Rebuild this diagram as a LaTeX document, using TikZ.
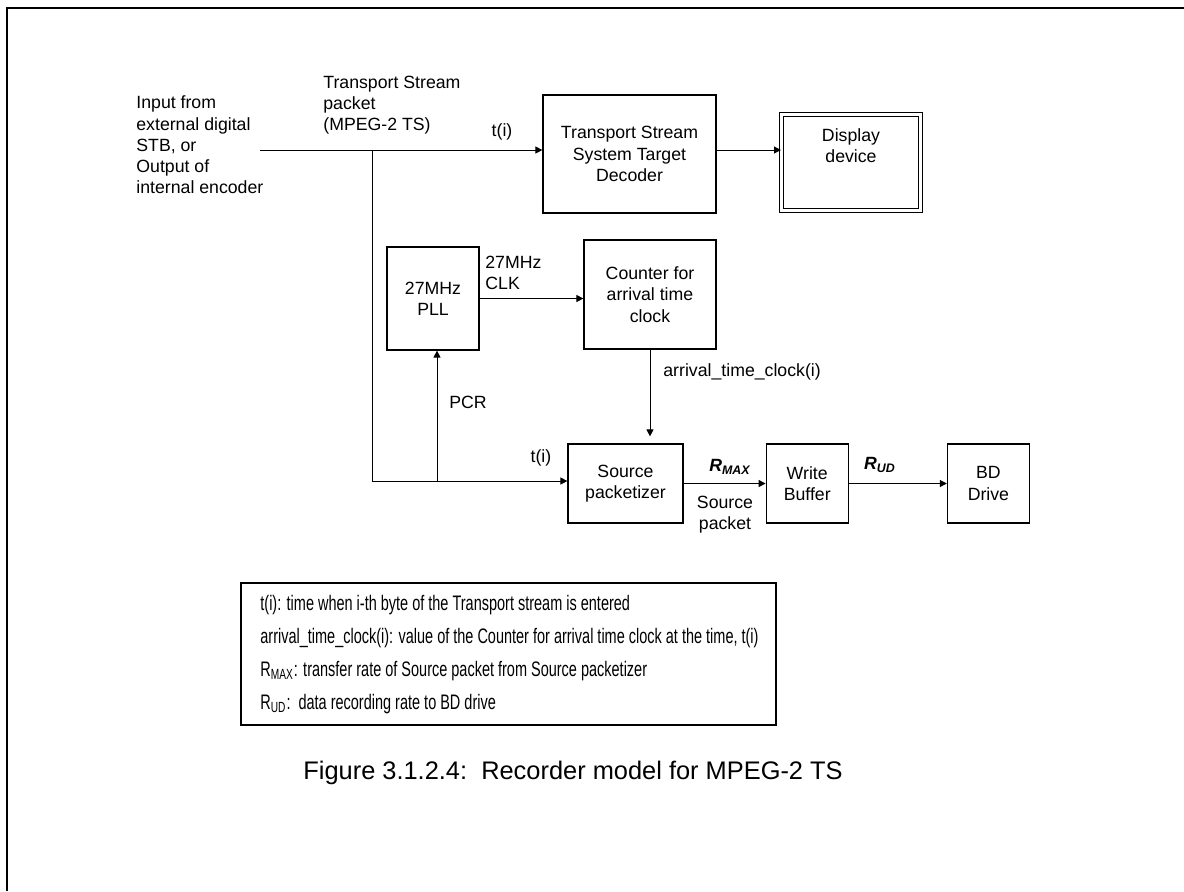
\documentclass[tikz,border=0pt]{standalone}
\usepackage{fontspec}
\setmainfont{Liberation Sans}
\newfontfamily\legendfont[FakeStretch=0.69]{Liberation Sans}
\usetikzlibrary{arrows.meta,positioning}

\begin{document}
\begin{tikzpicture}[
  x=0.5pt,y=-0.5pt,
  font=\fontsize{8.85}{10.6}\selectfont,
  blk/.style={draw,line width=0.6pt,align=center,inner sep=2pt},
  dbl/.style={draw,double,line width=0.5pt,double distance=1.2pt},
  lbl/.style={align=left,inner sep=0pt},
  legtxt/.style={anchor=west,inner sep=0pt,font=\legendfont\fontsize{10.5}{12}\selectfont},
  arr/.style={-{Triangle[length=3.5pt,width=3.5pt]},line width=0.5pt}
]
\useasboundingbox (0,0) rectangle (1184,891);
% outer frame
\draw[line width=1pt] (7,891) -- (7,8) -- (1184,8);

% input side
\node[lbl,anchor=west] (inp) at (136,145) {Input from\\external digital\\STB, or\\Output of\\internal encoder};
\node[lbl,anchor=west] (tslbl) at (323,105) {Transport Stream\\packet\\(MPEG-2 TS)};
\coordinate (src) at (260,150);
\coordinate (tap) at (372,150);
\coordinate (corner) at (372,481);
\coordinate (pcr) at (437,481);

% decoder and display
\node[blk,minimum width=86.5pt,minimum height=59pt] (tsstd) at (629.5,154) {Transport Stream\\System Target\\Decoder};
\node[dbl,minimum width=69.5pt,minimum height=48pt] (disp) at (851,162.5) {};
\node[anchor=north,align=center,inner sep=0pt] (disptxt) at ([yshift=-7pt]disp.north) {Display\\device};

% clock part
\node[blk,minimum width=46pt,minimum height=51.5pt] (pll) at (433,298.5) {27MHz\\PLL};
\node[blk,minimum width=66pt,minimum height=54.5pt] (ctr) at (650,294.5) {Counter for\\arrival time\\clock};

% recording chain
\node[blk,minimum width=57.5pt,minimum height=39.5pt] (spkt) at (625.5,483.5) {Source\\packetizer};
\node[blk,minimum width=41pt,minimum height=39.5pt,right=41pt of spkt] (wbuf) {Write\\Buffer};
\node[blk,minimum width=41pt,minimum height=39.5pt,right=49pt of wbuf] (bd) {BD\\Drive};

\draw[arr] (src) -- (src-|tsstd.west);
\draw[arr] (tsstd.east|-src) -- (disp.west|-src);
\draw (tap) -- (corner);
\draw[arr] (corner) -- (corner-|spkt.west);
\draw[arr] (pcr) -- (pcr|-pll.south);
\draw[arr] (pll.east) -- (pll.east-|ctr.west);
\draw[arr,shorten >=3.5pt] (ctr.south) -- (ctr.south|-spkt.north);
\draw[arr] (spkt.east) -- (wbuf.west);
\draw[arr] (wbuf.east) -- (bd.west);

% labels
\node[inner sep=0pt] (ti1) at (502,132) {t(i)};
\node[lbl,anchor=west] (clk) at (485,273) {27MHz\\CLK};
\node[lbl,anchor=west] (pcrlbl) at (449,402) {PCR};
\node[lbl,anchor=west] (atc) at (663,372) {arrival\_time\_clock(i)};
\node[inner sep=0pt] (ti2) at (541,458) {t(i)};
\node[inner sep=0pt] (rmax) at (730,467) {\textbf{\textit{R\textsubscript{MAX}}}};
\node[align=center,inner sep=0pt] (spk) at (725,515) {Source\\packet};
\node[inner sep=0pt] (rud) at (880,465) {\textbf{\textit{R\textsubscript{UD}}}};

% legend
\node[draw,line width=0.6pt,minimum width=267.5pt,minimum height=71pt,inner sep=0pt] (lgd) at (508.5,654) {};
\node[legtxt] (lg1) at (260,605) {t(i): time when i-th byte of the Transport stream is entered};
\node[legtxt] (lg2) at (260,638) {arrival\_time\_clock(i): value of the Counter for arrival time clock at the time, t(i)};
\node[legtxt] (lg3) at (260,671) {R\textsubscript{MAX}: transfer rate of Source packet from Source packetizer};
\node[legtxt] (lg4) at (260,704) {R\textsubscript{UD}:\ \ data recording rate to BD drive};

% caption
\node[anchor=west,inner sep=0pt,font=\fontsize{12.7}{15}\selectfont] (cap) at (303,773) {Figure 3.1.2.4:\ \ Recorder model for MPEG-2 TS};
\end{tikzpicture}
\end{document}
